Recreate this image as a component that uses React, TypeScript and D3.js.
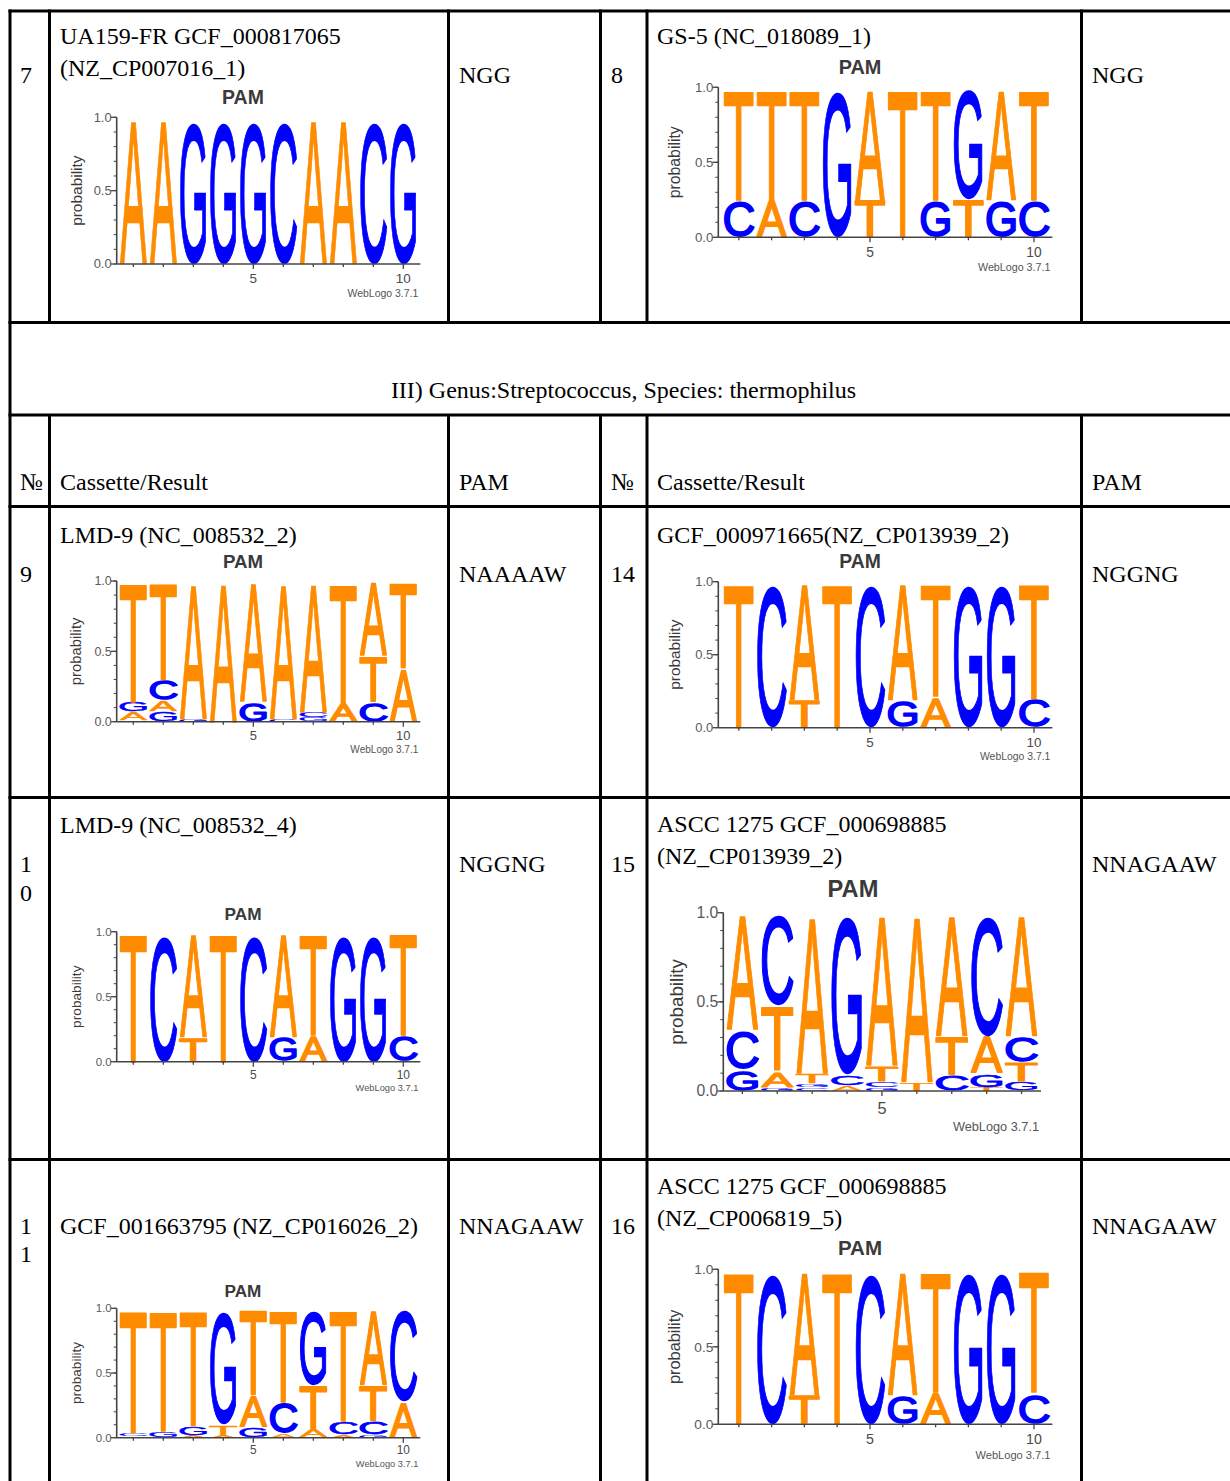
import React from "react";
import * as d3 from "d3";

type Col = [string, number][];

// ---------- DATA (sequence logo probabilities, bottom -> top) ----------
const logo7Columns: Col[] = [
  [["A", 1]], [["A", 1]], [["G", 1]], [["G", 1]], [["G", 1]],
  [["C", 1]], [["A", 1]], [["A", 1]], [["C", 1]], [["G", 1]],
];

const logo8Columns: Col[] = [
  [["C", 0.25], ["T", 0.75]],
  [["A", 0.25], ["T", 0.75]],
  [["C", 0.25], ["T", 0.75]],
  [["G", 1]],
  [["T", 0.25], ["A", 0.75]],
  [["T", 1]],
  [["G", 0.25], ["T", 0.75]],
  [["T", 0.25], ["G", 0.75]],
  [["G", 0.25], ["A", 0.75]],
  [["C", 0.25], ["T", 0.75]],
];

const logo9Columns: Col[] = [
  [["C", 0.01], ["A", 0.06], ["G", 0.07], ["T", 0.86]],
  [["G", 0.07], ["A", 0.08], ["C", 0.15], ["T", 0.7]],
  [["G", 0.02], ["A", 0.98]],
  [["A", 1]],
  [["G", 0.14], ["A", 0.86]],
  [["C", 0.02], ["A", 0.98]],
  [["G", 0.03], ["C", 0.04], ["A", 0.93]],
  [["A", 0.13], ["T", 0.87]],
  [["C", 0.14], ["T", 0.33], ["A", 0.53]],
  [["A", 0.38], ["T", 0.62]],
];

const logoTcatcatggtColumns: Col[] = [
  [["T", 1]],
  [["C", 1]],
  [["T", 0.19], ["A", 0.81]],
  [["T", 1]],
  [["C", 1]],
  [["G", 0.19], ["A", 0.81]],
  [["A", 0.21], ["T", 0.79]],
  [["G", 1]],
  [["G", 1]],
  [["C", 0.2], ["T", 0.8]],
];

const logo15Columns: Col[] = [
  [["G", 0.12], ["C", 0.22], ["A", 0.66]],
  [["G", 0.02], ["A", 0.09], ["T", 0.37], ["C", 0.52]],
  [["C", 0.02], ["G", 0.02], ["T", 0.06], ["A", 0.9]],
  [["A", 0.03], ["C", 0.06], ["G", 0.91]],
  [["G", 0.02], ["C", 0.03], ["T", 0.09], ["A", 0.86]],
  [["T", 0.05], ["A", 0.95]],
  [["C", 0.09], ["T", 0.22], ["A", 0.69]],
  [["T", 0.02], ["G", 0.08], ["A", 0.21], ["C", 0.69]],
  [["G", 0.05], ["T", 0.11], ["C", 0.15], ["A", 0.69]],
];

const logo11Columns: Col[] = [
  [["G", 0.01], ["C", 0.02], ["T", 0.97]],
  [["G", 0.05], ["T", 0.95]],
  [["A", 0.02], ["G", 0.07], ["T", 0.91]],
  [["A", 0.02], ["T", 0.08], ["G", 0.9]],
  [["G", 0.08], ["A", 0.25], ["T", 0.67]],
  [["A", 0.03], ["C", 0.25], ["T", 0.72]],
  [["A", 0.07], ["T", 0.34], ["G", 0.59]],
  [["A", 0.02], ["C", 0.1], ["T", 0.88]],
  [["G", 0.02], ["C", 0.11], ["T", 0.28], ["A", 0.59]],
  [["A", 0.28], ["C", 0.72]],
];

const yTicksMajor = [0, 0.5, 1.0];
const xTickLabels = [5, 10];

// ---------- TABLE TEXT ----------
const sectionTitle = "III) Genus:Streptococcus, Species: thermophilus";
const headerCells = ["№", "Cassette/Result", "PAM", "№", "Cassette/Result", "PAM"];
const rowNumbers = [["7"], ["8"], ["9"], ["14"], ["1", "0"], ["15"], ["1", "1"], ["16"]];
const cassettes = [
  ["UA159-FR GCF_000817065", "(NZ_CP007016_1)"],
  ["GS-5 (NC_018089_1)"],
  ["LMD-9 (NC_008532_2)"],
  ["GCF_000971665(NZ_CP013939_2)"],
  ["LMD-9 (NC_008532_4)"],
  ["ASCC 1275 GCF_000698885", "(NZ_CP013939_2)"],
  ["GCF_001663795 (NZ_CP016026_2)"],
  ["ASCC 1275 GCF_000698885", "(NZ_CP006819_5)"],
];
const pams = ["NGG", "NGG", "NAAAAW", "NGGNG", "NGGNG", "NNAGAAW", "NNAGAAW", "NNAGAAW"];
const logoColumns = [
  logo7Columns, logo8Columns, logo9Columns, logoTcatcatggtColumns,
  logoTcatcatggtColumns, logo15Columns, logo11Columns, logoTcatcatggtColumns,
];

// ---------- LAYOUT ----------
const headerX = [20, 60, 459, 611, 657, 1092];
const cellLayout = [
  { numX: 20, numY: 83, casX: 60, casY: 44, pamX: 459 },
  { numX: 611, numY: 83, casX: 657, casY: 44, pamX: 1092 },
  { numX: 20, numY: 581.5, casX: 60, casY: 542.5, pamX: 459 },
  { numX: 611, numY: 581.5, casX: 657, casY: 542.5, pamX: 1092 },
  { numX: 20, numY: 872, casX: 60, casY: 833, pamX: 459 },
  { numX: 611, numY: 872, casX: 657, casY: 832, pamX: 1092 },
  { numX: 20, numY: 1233.5, casX: 60, casY: 1233.5, pamX: 459 },
  { numX: 611, numY: 1233.5, casX: 657, casY: 1193.5, pamX: 1092 },
];
const logoLayout = [
  { axisX: 116.7, left: 118.3, right: 418.3, top: 117.3, bottom: 264, titleX: 243, probX: 76 },
  { axisX: 718.3, left: 722.4, right: 1050.4, top: 87.3, bottom: 237.3, titleX: 860, probX: 674 },
  { axisX: 116.7, left: 118.3, right: 418.3, top: 581, bottom: 721.7, titleX: 243, probX: 76 },
  { axisX: 718.3, left: 722.4, right: 1050.4, top: 581.7, bottom: 727.7, titleX: 860, probX: 674 },
  { axisX: 116.7, left: 118.3, right: 418.3, top: 931.7, bottom: 1061.7, titleX: 243, probX: 76 },
  { axisX: 723.3, left: 724.9, right: 1039, top: 912.7, bottom: 1091, titleX: 853, probX: 676 },
  { axisX: 116.7, left: 118.3, right: 418.3, top: 1308.3, bottom: 1437.7, titleX: 243, probX: 76 },
  { axisX: 718.3, left: 722.4, right: 1050.4, top: 1269.3, bottom: 1424.3, titleX: 860, probX: 674 },
];
const hLines = [11, 322.5, 415, 506.5, 797.5, 1159.5];
const vInner = [49.5, 448.5, 600.5, 647, 1081.5];

const BASE_COLOR: Record<string, string> = { A: "#FF8C00", T: "#FF8C00", C: "#0000FF", G: "#0000FF" };
// Arial / Liberation Sans ink bounds (units per em 2048): xMin, yMin, xMax, yMax
const GLYPH: Record<string, [number, number, number, number]> = {
  A: [-3, 0, 1369, 1466],
  C: [81, -25, 1386, 1491],
  G: [87, -25, 1485, 1491],
  T: [48, 0, 1210, 1466],
};
const SERIF = "'Liberation Serif','Times New Roman',serif";
const SANS = "'Liberation Sans',Arial,Helvetica,sans-serif";

function Letter({ base, x, w, yBottom, h }: { base: string; x: number; w: number; yBottom: number; h: number }) {
  if (h < 0.4) return null;
  const FS = 100;
  const k = FS / 2048;
  const sw = Math.min(1.8, h / 10);
  const half = sw / 2;
  const bx = x + half;
  const bw = w - sw;
  const by = yBottom - half;
  const bh = Math.max(0.3, h - sw);
  const [xmin, ymin, xmax, ymax] = GLYPH[base];
  const sx = bw / ((xmax - xmin) * k);
  const sy = bh / ((ymax - ymin) * k);
  return (
    <text
      transform={`translate(${bx},${by}) scale(${sx},${sy}) translate(${-xmin * k},${ymin * k})`}
      fontFamily={SANS}
      fontSize={FS}
      fill={BASE_COLOR[base]}
      stroke={BASE_COLOR[base]}
      strokeWidth={sw}
      vectorEffect="non-scaling-stroke"
      strokeLinejoin="round"
    >
      {base}
    </text>
  );
}

function Logo({ cols, lay }: { cols: Col[]; lay: (typeof logoLayout)[number] }) {
  const n = cols.length;
  const positions = d3.range(1, n + 1);
  const x = d3.scaleBand<number>().domain(positions).range([lay.left, lay.right]).paddingInner(0.06).paddingOuter(0.03);
  const y = d3.scaleLinear().domain([0, 1]).range([lay.bottom, lay.top]);
  const h = lay.bottom - lay.top;
  const k = h / 147;
  const center = (i: number) => (x(i) as number) + x.bandwidth() / 2;
  const minor = d3.range(0, 11).map((d) => d / 10);
  const fmt = d3.format(".1f");
  const axisColor = "#444";
  return (
    <g>
      <text x={lay.titleX} y={lay.top - 13.3 * k} textAnchor="middle" fontFamily={SANS} fontWeight="bold" fontSize={19.5 * k} fill="#3a3a3a">
        PAM
      </text>
      <text
        transform={`translate(${lay.probX},${(lay.top + lay.bottom) / 2}) rotate(-90)`}
        textAnchor="middle"
        dominantBaseline="central"
        fontFamily={SANS}
        fontSize={15.5 * k}
        fill="#3a3a3a"
      >
        probability
      </text>
      {cols.map((col, i) => {
        let acc = 0;
        return (
          <g key={i}>
            {col.map(([b, p], j) => {
              const y0 = y(acc);
              acc += p;
              const y1 = y(acc);
              return <Letter key={j} base={b} x={x(i + 1) as number} w={x.bandwidth()} yBottom={y0} h={y0 - y1} />;
            })}
          </g>
        );
      })}
      <line x1={lay.axisX} x2={lay.axisX} y1={y(1)} y2={y(0)} stroke={axisColor} strokeWidth={1.6} />
      <line x1={lay.axisX} x2={lay.right + 2} y1={y(0)} y2={y(0)} stroke={axisColor} strokeWidth={1.6} />
      {minor.map((t) => (
        <line key={t} x1={lay.axisX - 3} x2={lay.axisX} y1={y(t)} y2={y(t)} stroke={axisColor} strokeWidth={1} />
      ))}
      {yTicksMajor.map((t) => (
        <g key={t}>
          <line x1={lay.axisX - 6} x2={lay.axisX} y1={y(t)} y2={y(t)} stroke={axisColor} strokeWidth={1.3} />
          <text x={lay.axisX - 5} y={y(t) + 4.5 * k} textAnchor="end" fontFamily={SANS} fontSize={13 * k} fill="#5a5a5a">
            {fmt(t)}
          </text>
        </g>
      ))}
      {positions.map((p) => (
        <line key={p} x1={center(p)} x2={center(p)} y1={y(0)} y2={y(0) + (xTickLabels.includes(p) ? 5 : 3)} stroke={axisColor} strokeWidth={1.3} />
      ))}
      {xTickLabels
        .filter((p) => p <= n)
        .map((p) => (
          <text key={p} x={center(p)} y={y(0) + 19 * k} textAnchor="middle" fontFamily={SANS} fontSize={13.5 * k} fill="#4a4a4a">
            {p}
          </text>
        ))}
      <text x={lay.right} y={y(0) + 33 * k} textAnchor="end" fontFamily={SANS} fontSize={10.5 * k} fill="#555">
        WebLogo 3.7.1
      </text>
    </g>
  );
}

export default function App() {
  const W = 1230;
  const H = 1481;
  return (
    <svg width={W} height={H} style={{ position: "absolute", left: 0, top: 0, display: "block" }} fontFamily={SERIF}>
      <rect width={W} height={H} fill="#fff" />
      {hLines.map((yy) => (
        <line key={yy} x1={8.5} x2={W + 10} y1={yy} y2={yy} stroke="#000" strokeWidth={3} />
      ))}
      <line x1={10} x2={10} y1={9.5} y2={H} stroke="#000" strokeWidth={3} />
      {vInner.map((xx) => (
        <g key={xx}>
          <line x1={xx} x2={xx} y1={9.5} y2={322.5} stroke="#000" strokeWidth={3} />
          <line x1={xx} x2={xx} y1={415} y2={H} stroke="#000" strokeWidth={3} />
        </g>
      ))}
      <text x={623.5} y={398} textAnchor="middle" fontSize={24} fill="#000">
        {sectionTitle}
      </text>
      {headerCells.map((t, i) => (
        <text key={i} x={headerX[i]} y={490} fontSize={24} fill="#000">
          {t}
        </text>
      ))}
      {cellLayout.map((c, i) => (
        <g key={i}>
          {rowNumbers[i].map((t, j) => (
            <text key={j} x={c.numX} y={c.numY + j * 28.5} fontSize={24} fill="#000">
              {t}
            </text>
          ))}
          {cassettes[i].map((t, j) => (
            <text key={j} x={c.casX} y={c.casY + j * 32} fontSize={24} fill="#000">
              {t}
            </text>
          ))}
          <text x={c.pamX} y={c.numY} fontSize={24} fill="#000">
            {pams[i]}
          </text>
          <Logo cols={logoColumns[i]} lay={logoLayout[i]} />
        </g>
      ))}
    </svg>
  );
}
